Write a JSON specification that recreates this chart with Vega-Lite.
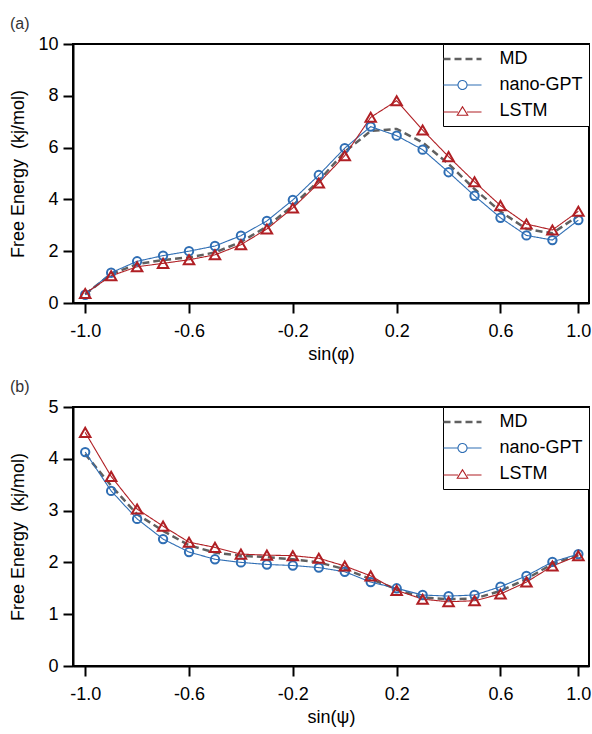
{
  "$schema": "https://vega.github.io/schema/vega-lite/v6.json",
  "padding": {"left": 8, "top": 15, "right": 2, "bottom": 0},
  "datasets": {
    "phi": [
      {"i": 0, "series": "MD", "fe": 0.34}, {"i": 1, "series": "MD", "fe": 1.12}, {"i": 2, "series": "MD", "fe": 1.5}, {"i": 3, "series": "MD", "fe": 1.66}, {"i": 4, "series": "MD", "fe": 1.76}, {"i": 5, "series": "MD", "fe": 1.95}, {"i": 6, "series": "MD", "fe": 2.36}, {"i": 7, "series": "MD", "fe": 2.95}, {"i": 8, "series": "MD", "fe": 3.76}, {"i": 9, "series": "MD", "fe": 4.72}, {"i": 10, "series": "MD", "fe": 5.84}, {"i": 11, "series": "MD", "fe": 6.64}, {"i": 12, "series": "MD", "fe": 6.72}, {"i": 13, "series": "MD", "fe": 6.2}, {"i": 14, "series": "MD", "fe": 5.37}, {"i": 15, "series": "MD", "fe": 4.4}, {"i": 16, "series": "MD", "fe": 3.53}, {"i": 17, "series": "MD", "fe": 2.86}, {"i": 18, "series": "MD", "fe": 2.69}, {"i": 19, "series": "MD", "fe": 3.37},
      {"i": 0, "series": "nano-GPT", "fe": 0.32}, {"i": 1, "series": "nano-GPT", "fe": 1.17}, {"i": 2, "series": "nano-GPT", "fe": 1.61}, {"i": 3, "series": "nano-GPT", "fe": 1.83}, {"i": 4, "series": "nano-GPT", "fe": 2.0}, {"i": 5, "series": "nano-GPT", "fe": 2.2}, {"i": 6, "series": "nano-GPT", "fe": 2.6}, {"i": 7, "series": "nano-GPT", "fe": 3.17}, {"i": 8, "series": "nano-GPT", "fe": 3.98}, {"i": 9, "series": "nano-GPT", "fe": 4.94}, {"i": 10, "series": "nano-GPT", "fe": 5.98}, {"i": 11, "series": "nano-GPT", "fe": 6.81}, {"i": 12, "series": "nano-GPT", "fe": 6.46}, {"i": 13, "series": "nano-GPT", "fe": 5.92}, {"i": 14, "series": "nano-GPT", "fe": 5.05}, {"i": 15, "series": "nano-GPT", "fe": 4.14}, {"i": 16, "series": "nano-GPT", "fe": 3.29}, {"i": 17, "series": "nano-GPT", "fe": 2.61}, {"i": 18, "series": "nano-GPT", "fe": 2.43}, {"i": 19, "series": "nano-GPT", "fe": 3.2},
      {"i": 0, "series": "LSTM", "fe": 0.37}, {"i": 1, "series": "LSTM", "fe": 1.05}, {"i": 2, "series": "LSTM", "fe": 1.4}, {"i": 3, "series": "LSTM", "fe": 1.53}, {"i": 4, "series": "LSTM", "fe": 1.67}, {"i": 5, "series": "LSTM", "fe": 1.86}, {"i": 6, "series": "LSTM", "fe": 2.25}, {"i": 7, "series": "LSTM", "fe": 2.86}, {"i": 8, "series": "LSTM", "fe": 3.67}, {"i": 9, "series": "LSTM", "fe": 4.63}, {"i": 10, "series": "LSTM", "fe": 5.69}, {"i": 11, "series": "LSTM", "fe": 7.17}, {"i": 12, "series": "LSTM", "fe": 7.81}, {"i": 13, "series": "LSTM", "fe": 6.68}, {"i": 14, "series": "LSTM", "fe": 5.65}, {"i": 15, "series": "LSTM", "fe": 4.68}, {"i": 16, "series": "LSTM", "fe": 3.76}, {"i": 17, "series": "LSTM", "fe": 3.05}, {"i": 18, "series": "LSTM", "fe": 2.82}, {"i": 19, "series": "LSTM", "fe": 3.54}
    ],
    "psi": [
      {"i": 0, "series": "MD", "fe": 4.09}, {"i": 1, "series": "MD", "fe": 3.48}, {"i": 2, "series": "MD", "fe": 2.93}, {"i": 3, "series": "MD", "fe": 2.61}, {"i": 4, "series": "MD", "fe": 2.33}, {"i": 5, "series": "MD", "fe": 2.19}, {"i": 6, "series": "MD", "fe": 2.13}, {"i": 7, "series": "MD", "fe": 2.1}, {"i": 8, "series": "MD", "fe": 2.06}, {"i": 9, "series": "MD", "fe": 2.0}, {"i": 10, "series": "MD", "fe": 1.87}, {"i": 11, "series": "MD", "fe": 1.68}, {"i": 12, "series": "MD", "fe": 1.48}, {"i": 13, "series": "MD", "fe": 1.32}, {"i": 14, "series": "MD", "fe": 1.29}, {"i": 15, "series": "MD", "fe": 1.3}, {"i": 16, "series": "MD", "fe": 1.45}, {"i": 17, "series": "MD", "fe": 1.68}, {"i": 18, "series": "MD", "fe": 1.97}, {"i": 19, "series": "MD", "fe": 2.14},
      {"i": 0, "series": "nano-GPT", "fe": 4.13}, {"i": 1, "series": "nano-GPT", "fe": 3.38}, {"i": 2, "series": "nano-GPT", "fe": 2.84}, {"i": 3, "series": "nano-GPT", "fe": 2.45}, {"i": 4, "series": "nano-GPT", "fe": 2.2}, {"i": 5, "series": "nano-GPT", "fe": 2.06}, {"i": 6, "series": "nano-GPT", "fe": 2.0}, {"i": 7, "series": "nano-GPT", "fe": 1.96}, {"i": 8, "series": "nano-GPT", "fe": 1.94}, {"i": 9, "series": "nano-GPT", "fe": 1.9}, {"i": 10, "series": "nano-GPT", "fe": 1.82}, {"i": 11, "series": "nano-GPT", "fe": 1.62}, {"i": 12, "series": "nano-GPT", "fe": 1.5}, {"i": 13, "series": "nano-GPT", "fe": 1.37}, {"i": 14, "series": "nano-GPT", "fe": 1.35}, {"i": 15, "series": "nano-GPT", "fe": 1.37}, {"i": 16, "series": "nano-GPT", "fe": 1.53}, {"i": 17, "series": "nano-GPT", "fe": 1.74}, {"i": 18, "series": "nano-GPT", "fe": 2.01}, {"i": 19, "series": "nano-GPT", "fe": 2.16},
      {"i": 0, "series": "LSTM", "fe": 4.51}, {"i": 1, "series": "LSTM", "fe": 3.66}, {"i": 2, "series": "LSTM", "fe": 3.03}, {"i": 3, "series": "LSTM", "fe": 2.7}, {"i": 4, "series": "LSTM", "fe": 2.39}, {"i": 5, "series": "LSTM", "fe": 2.29}, {"i": 6, "series": "LSTM", "fe": 2.16}, {"i": 7, "series": "LSTM", "fe": 2.14}, {"i": 8, "series": "LSTM", "fe": 2.13}, {"i": 9, "series": "LSTM", "fe": 2.08}, {"i": 10, "series": "LSTM", "fe": 1.93}, {"i": 11, "series": "LSTM", "fe": 1.74}, {"i": 12, "series": "LSTM", "fe": 1.46}, {"i": 13, "series": "LSTM", "fe": 1.29}, {"i": 14, "series": "LSTM", "fe": 1.24}, {"i": 15, "series": "LSTM", "fe": 1.26}, {"i": 16, "series": "LSTM", "fe": 1.39}, {"i": 17, "series": "LSTM", "fe": 1.62}, {"i": 18, "series": "LSTM", "fe": 1.93}, {"i": 19, "series": "LSTM", "fe": 2.13}
    ]
  },
  "config": {
    "font": "Liberation Sans",
    "view": {"stroke": "black", "strokeWidth": 2},
    "axis": {"grid": false, "domainColor": "black", "domainWidth": 2, "tickColor": "black", "tickWidth": 2, "tickSize": 10, "labelFontSize": 18, "labelColor": "black", "labelPadding": 5, "titleFontSize": 18, "titleFontWeight": "normal", "titleColor": "black", "labelFont": "Liberation Sans", "titleFont": "Liberation Sans"},
    "title": {"fontSize": 16, "fontWeight": "normal", "anchor": "start", "frame": "bounds", "color": "#333333", "font": "Liberation Sans", "offset": 3},
    "legend": {
      "title": null, "orient": "top-right", "offset": 0, "padding": 6,
      "strokeColor": "black", "fillColor": "white",
      "labelFontSize": 18, "labelColor": "black", "labelFont": "Liberation Sans",
      "symbolOffset": 4.5, "labelOffset": 28, "rowPadding": 8, "symbolSize": 100, "symbolStrokeWidth": 1.5
    }
  },
  "spacing": 14,
  "resolve": {"scale": {"color": "independent", "shape": "independent", "strokeDash": "independent", "strokeWidth": "independent", "size": "independent"}},
  "vconcat": [
    {
      "title": {"text": "(a)"},
      "width": 516, "height": 259,
      "data": {"name": "phi"},
      "encoding": {
        "x": {"field": "i", "type": "quantitative", "scale": {"domain": [-0.47, 19.41], "nice": false, "zero": false},
          "axis": {"values": [0, 4, 8, 12, 16, 19], "labelExpr": "['-1.0','-0.6','-0.2','0.2','0.6','1.0'][indexof([0,4,8,12,16,19], datum.value)]", "title": "sin(φ)", "titlePadding": 5, "labelPadding": 9}},
        "y": {"field": "fe", "type": "quantitative", "scale": {"domain": [0, 10], "nice": false},
          "axis": {"values": [0, 2, 4, 6, 8, 10], "title": "Free Energy \u00a0(kj/mol)", "titlePadding": 10}}
      },
      "layer": [
        {
          "mark": {"type": "line"},
          "encoding": {
            "color": {"field": "series", "type": "nominal", "scale": {"domain": ["MD", "nano-GPT", "LSTM"], "range": ["#606060", "#2f6eb4", "#b01f24"]},
              "legend": {"encode": {"symbols": {"update": {
                "shape": {"signal": "datum.value === 'MD' ? 'M-3.8,0H3.8' : datum.value === 'nano-GPT' ? 'M-3.8,0H-0.9M0.9,0H3.8M0.9,0A0.9,0.9 0 1,1 -0.9,0A0.9,0.9 0 1,1 0.9,0' : 'M-3.8,0.2H-0.9M0.9,0.2H3.8M0,-0.85L1.05,0.85L-1.05,0.85Z'"},
                "strokeDash": {"signal": "datum.value === 'MD' ? [7,4] : [1,0]"},
                "strokeWidth": {"signal": "datum.value === 'MD' ? 2.5 : 1.6"},
                "fill": {"value": "transparent"}
              }}}}},
            "strokeDash": {"field": "series", "type": "nominal", "scale": {"domain": ["MD", "nano-GPT", "LSTM"], "range": [[7, 4], [1, 0], [1, 0]]}, "legend": null},
            "strokeWidth": {"field": "series", "type": "nominal", "scale": {"type": "ordinal", "domain": ["MD", "nano-GPT", "LSTM"], "range": [2.5, 1.1, 1.1]}, "legend": null}
          }
        },
        {
          "transform": [{"filter": "datum.series != 'MD'"}],
          "mark": {"type": "point", "filled": false, "strokeWidth": 2, "opacity": 1},
          "encoding": {
            "color": {"field": "series", "type": "nominal", "scale": {"domain": ["MD", "nano-GPT", "LSTM"], "range": ["#606060", "#2f6eb4", "#b01f24"]}, "legend": null},
            "shape": {"field": "series", "type": "nominal", "scale": {"domain": ["nano-GPT", "LSTM"], "range": ["circle", "triangle-up"]}, "legend": null},
            "size": {"field": "series", "type": "nominal", "scale": {"type": "ordinal", "domain": ["nano-GPT", "LSTM"], "range": [70, 110]}, "legend": null}
          }
        }
      ]
    },
    {
      "title": {"text": "(b)"},
      "width": 516, "height": 259,
      "data": {"name": "psi"},
      "encoding": {
        "x": {"field": "i", "type": "quantitative", "scale": {"domain": [-0.47, 19.41], "nice": false, "zero": false},
          "axis": {"values": [0, 4, 8, 12, 16, 19], "labelExpr": "['-1.0','-0.6','-0.2','0.2','0.6','1.0'][indexof([0,4,8,12,16,19], datum.value)]", "title": "sin(ψ)", "titlePadding": 5, "labelPadding": 9}},
        "y": {"field": "fe", "type": "quantitative", "scale": {"domain": [0, 5], "nice": false},
          "axis": {"values": [0, 1, 2, 3, 4, 5], "title": "Free Energy \u00a0(kj/mol)", "titlePadding": 20}}
      },
      "layer": [
        {
          "mark": {"type": "line"},
          "encoding": {
            "color": {"field": "series", "type": "nominal", "scale": {"domain": ["MD", "nano-GPT", "LSTM"], "range": ["#606060", "#2f6eb4", "#b01f24"]},
              "legend": {"encode": {"symbols": {"update": {
                "shape": {"signal": "datum.value === 'MD' ? 'M-3.8,0H3.8' : datum.value === 'nano-GPT' ? 'M-3.8,0H-0.9M0.9,0H3.8M0.9,0A0.9,0.9 0 1,1 -0.9,0A0.9,0.9 0 1,1 0.9,0' : 'M-3.8,0.2H-0.9M0.9,0.2H3.8M0,-0.85L1.05,0.85L-1.05,0.85Z'"},
                "strokeDash": {"signal": "datum.value === 'MD' ? [7,4] : [1,0]"},
                "strokeWidth": {"signal": "datum.value === 'MD' ? 2.5 : 1.6"},
                "fill": {"value": "transparent"}
              }}}}},
            "strokeDash": {"field": "series", "type": "nominal", "scale": {"domain": ["MD", "nano-GPT", "LSTM"], "range": [[7, 4], [1, 0], [1, 0]]}, "legend": null},
            "strokeWidth": {"field": "series", "type": "nominal", "scale": {"type": "ordinal", "domain": ["MD", "nano-GPT", "LSTM"], "range": [2.5, 1.1, 1.1]}, "legend": null}
          }
        },
        {
          "transform": [{"filter": "datum.series != 'MD'"}],
          "mark": {"type": "point", "filled": false, "strokeWidth": 2, "opacity": 1},
          "encoding": {
            "color": {"field": "series", "type": "nominal", "scale": {"domain": ["MD", "nano-GPT", "LSTM"], "range": ["#606060", "#2f6eb4", "#b01f24"]}, "legend": null},
            "shape": {"field": "series", "type": "nominal", "scale": {"domain": ["nano-GPT", "LSTM"], "range": ["circle", "triangle-up"]}, "legend": null},
            "size": {"field": "series", "type": "nominal", "scale": {"type": "ordinal", "domain": ["nano-GPT", "LSTM"], "range": [70, 110]}, "legend": null}
          }
        }
      ]
    }
  ]
}
